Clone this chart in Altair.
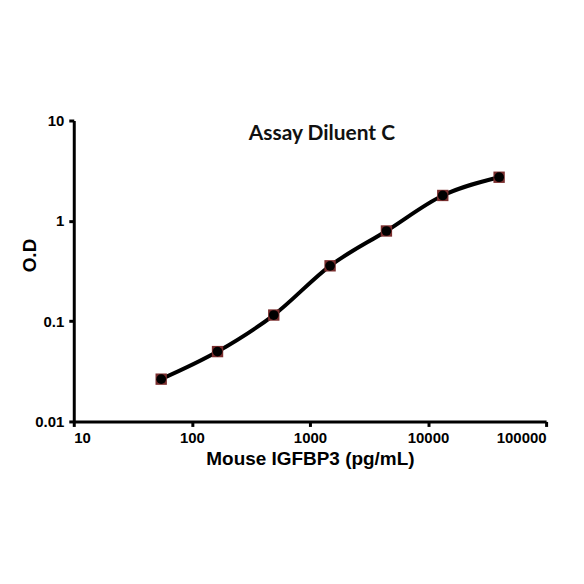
import altair as alt
import pandas as pd

conc = [55, 165, 494, 1481, 4444, 13333, 40000]
od = [0.0264, 0.0497, 0.115, 0.356, 0.792, 1.79, 2.72]
x_ticks = [10, 100, 1000, 10000, 100000]
y_ticks = [0.01, 0.1, 1, 10]

df = pd.DataFrame({"conc": conc, "od": od})

xenc = alt.X("conc:Q", scale=alt.Scale(type="log", domain=[10, 100000], nice=False),
             axis=alt.Axis(values=x_ticks, format="d", title="Mouse IGFBP3 (pg/mL)",
                           titleFontSize=19, titleY=37, titleBaseline="middle"))
yenc = alt.Y("od:Q", scale=alt.Scale(type="log", domain=[0.01, 10], nice=False),
             axis=alt.Axis(values=y_ticks, labelExpr="datum.value >= 1 ? format(datum.value, 'd') : format(datum.value, '.2~f')",
                           title="O.D", titleFontSize=19, titleX=-44, titleY=135,
                           titleBaseline="middle", titleAngle=270))

base = alt.Chart(df)
line = base.mark_line(interpolate="monotone", color="black", strokeWidth=4).encode(x=xenc, y=yenc)
sq = base.mark_point(shape="square", filled=True, color="#7a2e2e", size=130, opacity=1).encode(x="conc:Q", y="od:Q")
dot = base.mark_point(shape="circle", filled=True, color="black", size=95, opacity=1).encode(x="conc:Q", y="od:Q")
title = alt.Chart(pd.DataFrame({"t": ["Assay Diluent C"]})).mark_text(
    font="Lato", fontWeight="bold", fontSize=21, color="#111111", align="center", baseline="middle"
).encode(text="t:N", x=alt.value(249), y=alt.value(14))

chart = alt.layer(line, sq, dot, title).properties(
    width=474, height=302,
    autosize=alt.AutoSizeParams(type="none"),
    padding={"left": 66, "top": 112, "right": 30, "bottom": 100},
).configure_view(stroke=None).configure_axis(
    domainColor="black", domainWidth=3, tickColor="black", tickWidth=3, tickSize=5,
    grid=False, labelFont="Liberation Sans", labelFontWeight="bold", labelFontSize=15, labelColor="black",
    titleFont="Liberation Sans", titleFontWeight="bold", titleColor="black", labelPadding=5
).configure_axisX(labelPadding=4)

chart.save("out.html", embed_options={"renderer": "svg", "actions": False})
